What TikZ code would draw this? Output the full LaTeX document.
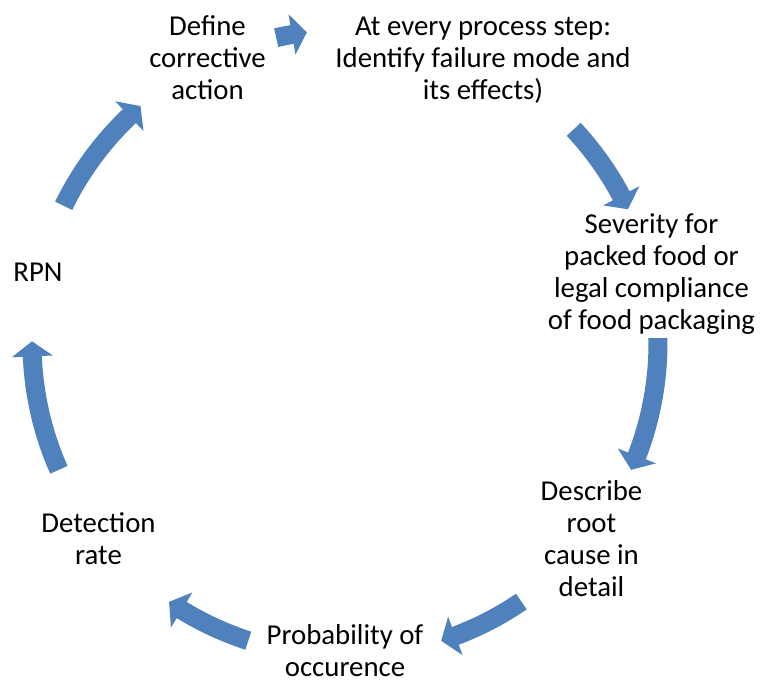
\documentclass[tikz,border=0pt]{standalone}
\usepackage{fontspec}
\setmainfont{Carlito}
\definecolor{accblue}{HTML}{4F81BD}
\tikzset{
  lbl/.style={align=center, inner sep=0pt, anchor=base, font=\fontsize{28.8}{32.3}\selectfont},
  cyc/.style={fill=accblue, draw=none}
}
\newcommand\cycarrow[2]{%
  \pgfmathsetmacro\hb{#2+2.75}%
  \fill[cyc] (#1:322.5pt) arc[start angle=#1, end angle=\hb, radius=322.5pt]
    -- (\hb:333.5pt) -- (#2:313pt) -- (\hb:292.5pt) -- (\hb:303.5pt)
    arc[start angle=\hb, end angle=#1, radius=303.5pt] -- cycle;}
\begin{document}
\begin{tikzpicture}
\fill[white] (-345pt,-341pt) rectangle (415pt,343pt);
\useasboundingbox (-345pt,-341pt) rectangle (415pt,343pt);
% base anchor = baseline of the last line
\node[lbl] (atevery) at (138pt,243pt) {At every process step:\\Identify failure mode and\\its effects)};
\node[lbl] (severity) at (306.5pt,13pt) {Severity for\\packed food or\\legal compliance\\of food packaging};
\node[lbl] (describe) at (246.5pt,-254pt) {Describe\\root\\cause in\\detail};
\node[lbl] (probability) at (0pt,-334pt) {Probability of\\occurence};
\node[lbl] (detection) at (-246.5pt,-222pt) {Detection\\rate};
\node[lbl] (rpn) at (-307pt,61pt) {RPN};
\node[lbl] (define) at (-137.5pt,243pt) {Define\\corrective\\action};
\cycarrow{102.7}{97.0}
\cycarrow{43.05}{25.3}
\cycarrow{0.9}{-23.9}
\cycarrow{-55.7}{-72.1}
\cycarrow{-108}{-124.2}
\cycarrow{203.9}{179.7}
\cycarrow{154}{130.8}
\end{tikzpicture}
\end{document}
